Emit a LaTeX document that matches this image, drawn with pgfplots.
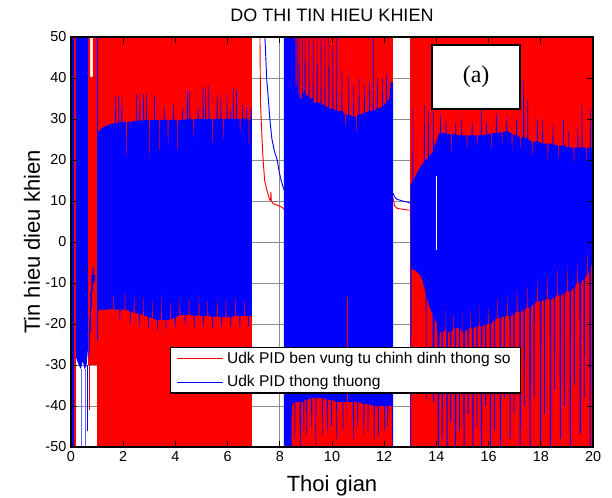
\documentclass[border=0pt]{standalone}
\usepackage{pgfplots}
\pgfplotsset{compat=1.18}
\usepgfplotslibrary{fillbetween}
\usepackage{fontspec}
\setmainfont{Liberation Sans}
\newfontfamily\serif{Liberation Serif}

\pgfplotsset{
  layers/matlab/.define layer set={
    axis background,axis grid,pre main,main,axis ticks,axis lines,axis tick labels,
    axis descriptions,axis foreground
  }{/pgfplots/layers/standard},
}

\begin{document}
\begin{tikzpicture}
\begin{axis}[
    set layers=matlab,
    fill between/on layer=main,
    scale only axis,
    width=391.5pt, height=307.5pt,
    xmin=0, xmax=20, ymin=-50, ymax=50,
    xtick={0,2,...,20}, ytick={-50,-40,...,50},
    grid=major,
    major grid style={black!45, line width=0.6pt},
    axis line style={black, line width=0.8pt},
    tick style={black, line width=0.6pt},
    tick align=inside,
    /pgf/number format/assume math mode=true,
    ticklabel style={font=\fontsize{10.8}{12}\selectfont},
    every axis title shift=0pt,
    title={DO THI TIN HIEU KHIEN},
    title style={at={(axis description cs:0.5,1.039)}, anchor=base, inner sep=0pt, font=\fontsize{13.5}{15}\selectfont},
    xlabel={Thoi gian},
    ylabel={Tin hieu dieu khien},
    xlabel style={at={(axis description cs:0.5,-0.109)}, anchor=base, inner sep=0pt, font=\fontsize{16.5}{18}\selectfont},
    ylabel style={at={(axis description cs:-0.0594,0.5)}, anchor=base, inner sep=0pt, font=\fontsize{16.5}{18}\selectfont},
    legend style={at={(0.1897,0.2439)}, anchor=north west, draw=black, line width=1pt,
        fill=white, font=\fontsize{11.7}{13}\selectfont, inner xsep=4.5pt, inner ysep=0.6pt,
        row sep=2.5pt, nodes={inner ysep=2.6pt, inner xsep=3pt}},
    legend cell align=left,
    legend image code/.code={\draw[#1, line width=0.6pt] (0cm,0cm) -- (1.2cm,0cm);},
]

% ---- red signal: dense oscillation blocks ----
\addplot[fill=red, draw=none, forget plot] coordinates {
 (0.66,-30) (0.66,50) (0.73,50) (0.73,40.3) (0.84,40.3) (0.84,50) (6.93,50) (6.93,-50) (1.00,-50) (1.00,-30)} -- cycle;
\addplot[fill=red, draw=none, forget plot] coordinates {
 (8.15,-50) (8.15,50) (12.34,50) (12.34,-50)} -- cycle;
\addplot[fill=red, draw=none, forget plot] coordinates {
 (13.00,-50) (13.00,50) (20.00,50) (20.00,-50)} -- cycle;
\addplot[red, line width=0.6pt, forget plot] coordinates {(0.70,-30) (0.70,-41)};

% ---- red signal in the gaps ----
\addplot[red, line width=0.7pt, forget plot] coordinates {
 (7.24,50) (7.26,34) (7.32,25) (7.36,20) (7.42,15) (7.50,12.7) (7.62,10.2) (7.65,10.4)
 (7.66,12.2) (7.67,10.6) (7.68,10.0) (7.75,9.3) (7.90,9.0) (8.05,8.6) (8.12,8.3) (8.15,8.0)};
\addplot[red, line width=0.7pt, forget plot] coordinates {
 (12.34,10.7) (12.40,8.8) (12.50,8.2) (12.70,8.0) (12.90,7.8) (13.00,7.8) (13.00,6.0)};

% ---- blue signal: early transient ----
\addplot[fill=blue, draw=none, forget plot] coordinates {
 (0.04,-50) (0.04,50) (0.12,50) (0.12,-50)} -- cycle;
\addplot[fill=blue, draw=none, forget plot] coordinates {
 (0.18,50) (0.65,50) (0.65,-26) (0.60,-30) (0.52,-31) (0.45,-29) (0.38,-31) (0.30,-30) (0.24,-29) (0.18,-28)} -- cycle;
\addplot[red, line width=0.9pt, forget plot] coordinates {(0.15,-50) (0.15,50)};
\addplot[blue!60, line width=0.6pt, forget plot] coordinates {(0.38,-31) (0.38,-50)};
\addplot[blue!60, line width=0.6pt, forget plot] coordinates {(0.56,-31) (0.56,-50)};
\addplot[blue, line width=0.6pt, forget plot] coordinates {(0.62,-30) (0.62,-46)};
\addplot[blue, line width=0.6pt, forget plot] coordinates {
 (0.70,-28) (0.72,-18) (0.74,-22) (0.76,-12) (0.78,-16) (0.80,-8) (0.82,-12) (0.85,-6) (0.88,-10) (0.92,-8)};
\addplot[blue, line width=0.7pt, forget plot] coordinates {(1.00,50) (1.00,-24)};

% ---- blue band 1 (1.0 - 6.93) ----
\addplot[name path=b1u, draw=none, forget plot] coordinates {
 (1.00,26.5) (1.10,27.3) (1.20,27.8) (1.30,28.2) (1.40,28.5) (1.50,28.7) (1.60,28.9) (1.69,29.0)
 (1.70,35.6) (1.72,35.6) (1.73,29.0) (1.81,29.1) (1.82,35.6) (1.84,35.6) (1.85,29.1) (1.93,29.2)
 (1.94,35.4) (1.96,35.4) (1.97,29.2) (2.10,29.3) (2.12,21.0) (2.14,21.0) (2.15,29.3) (2.28,29.4)
 (2.30,26.0) (2.31,29.4) (2.50,29.5) (2.51,36.3) (2.53,36.3) (2.54,29.6) (2.62,29.6) (2.63,35.8)
 (2.65,35.8) (2.66,29.6) (2.76,29.7) (2.77,36.0) (2.79,36.0) (2.80,29.7) (2.88,29.7) (2.89,36.2)
 (2.91,36.2) (2.92,29.7) (2.98,29.7) (2.99,20.5) (3.01,20.5) (3.02,29.7) (3.18,29.7) (3.19,35.5)
 (3.21,35.5) (3.22,29.7) (3.38,29.8) (3.39,22.5) (3.41,22.5) (3.42,29.8) (3.55,29.8) (3.56,33.0)
 (3.58,33.0) (3.59,29.8) (3.70,29.8) (3.71,23.5) (3.73,23.5) (3.74,29.8) (3.90,29.8) (3.91,33.5)
 (3.93,33.5) (3.94,29.8) (4.05,29.8) (4.06,22.5) (4.08,22.5) (4.09,29.8) (4.25,29.8) (4.26,32.5)
 (4.28,32.5) (4.29,29.8) (4.44,29.9) (4.45,36.8) (4.47,36.8) (4.48,29.9) (4.53,29.9) (4.54,36.8)
 (4.56,36.8) (4.57,29.9) (4.68,29.9) (4.69,25.5) (4.71,25.5) (4.72,29.9) (4.85,30.0) (4.86,33.0)
 (4.88,33.0) (4.89,30.0) (5.04,30.0) (5.05,38.0) (5.07,38.0) (5.08,30.0) (5.14,30.0) (5.15,37.5)
 (5.17,37.5) (5.18,30.0) (5.26,30.0) (5.27,38.2) (5.29,38.2) (5.30,30.0) (5.40,30.0) (5.41,24.0)
 (5.43,24.0) (5.44,30.0) (5.58,30.0) (5.59,36.0) (5.61,36.0) (5.62,30.0) (5.72,30.0) (5.73,35.5)
 (5.75,35.5) (5.76,30.0) (5.82,30.0) (5.83,25.0) (5.85,25.0) (5.86,30.0) (5.96,30.0) (5.97,36.0)
 (5.99,36.0) (6.00,30.0) (6.10,30.0) (6.11,32.0) (6.13,32.0) (6.14,30.0) (6.20,30.0) (6.21,37.5)
 (6.23,37.5) (6.24,30.0) (6.32,30.0) (6.33,37.0) (6.35,37.0) (6.36,30.0) (6.46,30.0) (6.47,27.0)
 (6.49,27.0) (6.50,30.0) (6.56,30.0) (6.57,33.5) (6.59,33.5) (6.60,30.0) (6.70,30.0) (6.71,33.0)
 (6.73,33.0) (6.74,30.0) (6.80,30.0) (6.81,24.0) (6.83,24.0) (6.84,30.0) (6.88,30.0) (6.89,33.0)
 (6.91,33.0) (6.93,30.0)};
\addplot[name path=b1l, draw=none, forget plot] coordinates {
 (1.00,-24.0) (1.02,-17.0) (1.10,-16.5) (1.30,-16.5) (1.50,-16.4) (1.62,-16.4) (1.63,-13.0) (1.65,-13.0)
 (1.66,-16.5) (1.85,-16.5) (1.86,-19.0) (1.88,-19.0) (1.89,-16.5) (2.05,-16.5) (2.06,-12.5) (2.08,-12.5)
 (2.09,-16.6) (2.25,-16.8) (2.26,-20.0) (2.28,-20.0) (2.29,-17.0) (2.40,-17.2) (2.41,-13.0) (2.43,-13.0)
 (2.44,-17.3) (2.60,-17.5) (2.61,-20.5) (2.63,-20.5) (2.64,-17.6) (2.75,-17.8) (2.76,-13.5) (2.78,-13.5)
 (2.79,-18.0) (2.95,-18.2) (2.96,-21.0) (2.98,-21.0) (2.99,-18.3) (3.10,-18.5) (3.11,-14.0) (3.13,-14.0)
 (3.14,-18.7) (3.30,-19.0) (3.31,-21.5) (3.33,-21.5) (3.34,-19.0) (3.45,-19.0) (3.46,-12.8) (3.48,-12.8)
 (3.49,-19.0) (3.62,-19.0) (3.63,-21.3) (3.65,-21.3) (3.66,-19.0) (3.80,-19.0) (3.81,-14.5) (3.83,-14.5)
 (3.84,-18.8) (3.98,-18.5) (3.99,-20.8) (4.01,-20.8) (4.02,-18.3) (4.15,-18.0) (4.16,-13.5) (4.18,-13.5)
 (4.19,-17.8) (4.35,-17.8) (4.36,-20.5) (4.38,-20.5) (4.39,-17.8) (4.50,-17.8) (4.51,-14.0) (4.53,-14.0)
 (4.54,-17.8) (4.70,-17.9) (4.71,-20.8) (4.73,-20.8) (4.74,-17.9) (4.88,-18.0) (4.89,-13.0) (4.91,-13.0)
 (4.92,-18.0) (5.05,-18.0) (5.06,-20.5) (5.08,-20.5) (5.09,-18.0) (5.22,-18.0) (5.23,-14.5) (5.25,-14.5)
 (5.26,-18.0) (5.40,-18.2) (5.41,-21.0) (5.43,-21.0) (5.44,-18.2) (5.58,-18.2) (5.59,-13.5) (5.61,-13.5)
 (5.62,-18.2) (5.75,-18.3) (5.76,-20.8) (5.78,-20.8) (5.79,-18.3) (5.92,-18.3) (5.93,-14.0) (5.95,-14.0)
 (5.96,-18.3) (6.10,-18.3) (6.11,-20.5) (6.13,-20.5) (6.14,-18.3) (6.28,-18.0) (6.29,-13.5) (6.31,-13.5)
 (6.32,-18.0) (6.45,-18.0) (6.46,-20.8) (6.48,-20.8) (6.49,-18.0) (6.62,-18.0) (6.63,-14.0) (6.65,-14.0)
 (6.66,-18.0) (6.78,-18.0) (6.79,-20.5) (6.81,-20.5) (6.82,-18.0) (6.93,-18.0)};
\addplot[blue, forget plot] fill between[of=b1u and b1l];

% ---- blue band 2 (8.16 - 12.34) ----
\addplot[name path=b2u, draw=none, forget plot] coordinates {
 (8.16,50) (8.60,50) (8.61,38) (8.64,38) (8.65,50) (8.68,50) (8.69,36) (8.72,36) (8.73,50) (8.75,50)
 (8.76,35) (8.84,35) (8.85,50) (8.87,50) (8.88,36) (8.95,37) (8.96,50) (8.98,50) (8.99,36) (9.10,35.5)
 (9.11,50) (9.13,50) (9.14,35) (9.26,35) (9.27,50) (9.29,50) (9.30,34) (9.41,34) (9.42,50) (9.44,50)
 (9.45,34) (9.56,34) (9.57,50) (9.59,50) (9.60,33.5) (9.71,33.5) (9.72,50) (9.74,50) (9.75,33)
 (9.86,33) (9.87,50) (9.89,50) (9.90,32.5) (10.01,32.5) (10.02,48) (10.04,48) (10.05,32.5) (10.16,32)
 (10.17,50) (10.19,50) (10.20,32) (10.36,32) (10.37,42) (10.39,42) (10.40,32) (10.50,31) (10.51,28)
 (10.53,28) (10.54,31) (10.62,31) (10.63,40) (10.65,40) (10.66,31) (10.81,30.5) (10.82,38) (10.84,38)
 (10.85,30.5) (10.92,30.5) (10.93,27) (10.95,27) (10.96,31) (11.02,31) (11.03,40) (11.05,40) (11.06,31)
 (11.22,31.5) (11.23,38) (11.25,38) (11.26,31.5) (11.42,32) (11.43,39) (11.45,39) (11.46,32) (11.56,32)
 (11.57,50) (11.59,50) (11.60,32) (11.72,32.5) (11.73,40) (11.75,40) (11.76,32.5) (11.92,33) (11.93,40)
 (11.95,40) (11.96,33) (12.07,34) (12.08,41) (12.10,41) (12.11,34) (12.20,35) (12.25,39) (12.34,39)};
\addplot[name path=b2l, draw=none, forget plot] coordinates {
 (8.16,-50) (8.45,-50) (8.46,-40) (8.56,-39) (8.57,-48) (8.59,-48) (8.60,-39) (8.76,-39) (8.77,-50)
 (8.80,-50) (8.81,-39) (8.90,-39) (8.91,-46) (8.93,-46) (8.94,-38.5) (9.01,-38.5) (9.02,-47) (9.04,-47)
 (9.05,-38.5) (9.20,-38) (9.21,-45) (9.23,-45) (9.24,-38) (9.36,-38) (9.37,-50) (9.39,-50) (9.40,-38)
 (9.61,-38) (9.62,-47) (9.64,-47) (9.65,-38) (9.80,-38.5) (9.81,-46) (9.83,-46) (9.84,-38.5) (9.96,-38.5)
 (9.97,-45) (9.99,-45) (10.00,-38.5) (10.16,-39) (10.17,-48) (10.19,-48) (10.20,-39) (10.40,-39)
 (10.41,-46) (10.43,-46) (10.44,-39) (10.56,-39) (10.57,-47) (10.59,-47) (10.60,-39) (10.80,-39)
 (10.81,-48) (10.83,-48) (10.84,-39) (10.96,-39) (10.97,-45) (10.99,-45) (11.00,-39) (11.20,-39.5)
 (11.21,-47) (11.23,-47) (11.24,-39.5) (11.36,-39.5) (11.37,-46) (11.39,-46) (11.40,-39.5) (11.60,-40)
 (11.61,-48) (11.63,-48) (11.64,-40) (11.76,-40) (11.77,-47) (11.79,-47) (11.80,-40) (12.00,-40)
 (12.01,-46) (12.03,-46) (12.04,-40) (12.11,-40) (12.12,-45) (12.14,-45) (12.15,-40) (12.30,-40)
 (12.31,-50) (12.34,-50)};
\addplot[blue, forget plot] fill between[of=b2u and b2l];
\addplot[red, line width=0.6pt, forget plot] coordinates {(10.60,-50) (10.60,-13.4)};

% ---- blue signal in the gaps ----
\addplot[blue, line width=0.7pt, forget plot] coordinates {
 (7.43,50) (7.50,39.5) (7.56,35) (7.62,29.8) (7.70,25) (7.80,22) (7.90,20) (7.98,17) (8.05,15.1)
 (8.12,13.5) (8.16,12.7)};
\addplot[blue, line width=0.7pt, forget plot] coordinates {
 (12.34,11.9) (12.40,11.0) (12.50,10.4) (12.70,10.0) (12.90,9.7) (13.00,9.5)};

% ---- blue band 3 (13.0 - 20.0) ----
\addplot[name path=b3u, draw=none, forget plot] coordinates {
 (13.00,14) (13.05,14.4) (13.08,14.6) (13.09,32.7) (13.11,32.7) (13.12,15) (13.25,16.8) (13.40,18.5)
 (13.52,19.5) (13.53,33.4) (13.55,33.4) (13.56,19.7) (13.68,20.5) (13.69,32) (13.71,32) (13.72,20.8)
 (13.86,22) (13.87,32) (13.89,32) (13.90,23) (14.00,24.5) (14.10,26.5) (14.14,26.6) (14.15,31)
 (14.17,31) (14.18,26.6) (14.35,26.5) (14.36,29.5) (14.38,29.5) (14.39,26.4) (14.55,26.3) (14.56,22)
 (14.58,22) (14.59,26.3) (14.72,26.2) (14.73,29) (14.75,29) (14.76,26.1) (14.95,26.0) (14.96,30)
 (14.98,30) (14.99,26.0) (15.15,26.0) (15.16,23) (15.18,23) (15.19,26.0) (15.35,26.0) (15.36,29.5)
 (15.38,29.5) (15.39,26.0) (15.55,26.0) (15.56,23.5) (15.58,23.5) (15.59,26.0) (15.70,26.0) (15.71,32.3)
 (15.73,32.3) (15.74,26.0) (15.90,26.2) (15.91,29) (15.93,29) (15.94,26.2) (16.10,26.4) (16.11,23)
 (16.13,23) (16.14,26.5) (16.28,26.6) (16.29,31.5) (16.31,31.5) (16.32,26.6) (16.50,26.8) (16.51,24)
 (16.53,24) (16.54,26.8) (16.68,27.0) (16.69,30.5) (16.71,30.5) (16.72,27.0) (16.88,26.5) (16.89,22.5)
 (16.91,22.5) (16.92,26.3) (17.05,26.0) (17.06,30) (17.08,30) (17.09,26.0) (17.20,25.5) (17.21,23)
 (17.23,23) (17.24,25.5) (17.32,25.5) (17.33,39.6) (17.35,39.6) (17.36,25.5) (17.48,25.2) (17.49,34.6)
 (17.51,34.6) (17.52,25.0) (17.65,24.5) (17.66,21) (17.68,21) (17.69,24.5) (17.85,24.5) (17.86,30)
 (17.88,30) (17.89,24.5) (18.05,24.0) (18.06,29.8) (18.08,29.8) (18.09,24.0) (18.25,24.0) (18.26,20)
 (18.28,20) (18.29,24.0) (18.45,24.0) (18.46,28.5) (18.48,28.5) (18.49,23.8) (18.65,23.5) (18.66,20.5)
 (18.68,20.5) (18.69,23.5) (18.85,23.5) (18.86,29.8) (18.88,29.8) (18.89,23.5) (19.05,23.0) (19.06,27)
 (19.08,27) (19.09,23.0) (19.25,23.0) (19.26,19.5) (19.28,19.5) (19.29,23.0) (19.40,23.0) (19.41,28)
 (19.43,28) (19.44,23.0) (19.56,23.0) (19.57,33.4) (19.59,33.4) (19.60,23.0) (19.72,23.0) (19.73,20)
 (19.75,20) (19.76,23.0) (19.88,23.0) (19.89,32.3) (19.91,32.3) (19.92,23.0) (20.00,23.0)};
\addplot[name path=b3l, draw=none, forget plot] coordinates {
 (13.00,-50) (13.03,-50) (13.04,-6.5) (13.20,-7.0) (13.35,-7.8) (13.45,-9.0) (13.55,-11.5) (13.59,-12.5)
 (13.60,-39) (13.62,-39) (13.63,-13) (13.65,-14.0) (13.75,-16.0) (13.85,-17.5) (13.87,-39) (13.91,-39)
 (13.93,-18.5) (14.03,-20) (14.06,-50) (14.10,-50) (14.12,-22)
 (14.20,-22) (14.21,-48) (14.24,-48) (14.25,-22) (14.32,-21.5) (14.33,-16) (14.34,-16) (14.35,-21.5)
 (14.38,-21.5) (14.39,-50) (14.43,-50) (14.44,-22) (14.52,-22) (14.53,-44) (14.56,-44) (14.57,-22)
 (14.64,-21) (14.65,-15) (14.66,-15) (14.67,-21) (14.70,-21) (14.71,-50) (14.75,-50) (14.76,-21)
 (14.86,-21) (14.87,-46) (14.90,-46) (14.91,-21) (14.97,-22) (14.98,-17) (14.99,-17) (15.00,-22)
 (15.03,-22) (15.04,-50) (15.08,-50) (15.09,-22) (15.19,-21) (15.20,-42) (15.23,-42) (15.24,-21)
 (15.30,-21) (15.31,-14) (15.32,-14) (15.33,-21) (15.37,-21) (15.38,-50) (15.42,-50) (15.43,-21)
 (15.53,-20.5) (15.54,-45) (15.57,-45) (15.58,-20.5) (15.63,-20.5) (15.64,-15) (15.65,-15) (15.66,-20.5)
 (15.70,-20.5) (15.71,-50) (15.75,-50) (15.76,-20.5) (15.86,-20) (15.87,-40) (15.90,-40) (15.91,-20)
 (15.97,-20) (15.98,-14) (15.99,-14) (16.00,-20) (16.04,-20) (16.05,-50) (16.09,-50) (16.10,-20)
 (16.20,-19) (16.21,-46) (16.24,-46) (16.25,-19) (16.32,-18.5) (16.33,-14) (16.35,-14) (16.36,-18.5)
 (16.42,-18.5) (16.43,-50) (16.47,-50) (16.48,-18.5) (16.58,-18) (16.59,-38) (16.62,-38) (16.63,-18)
 (16.70,-18) (16.71,-13) (16.73,-13) (16.74,-18) (16.80,-18) (16.81,-48) (16.84,-48) (16.85,-18)
 (16.95,-17.5) (16.96,-42) (16.99,-42) (17.00,-17.5) (17.07,-17) (17.08,-12) (17.10,-12) (17.11,-17)
 (17.18,-17) (17.19,-50) (17.23,-50) (17.24,-17) (17.34,-16.5) (17.35,-40) (17.38,-40) (17.39,-16.5)
 (17.46,-16) (17.47,-11) (17.49,-11) (17.50,-16) (17.56,-16) (17.57,-50) (17.61,-50) (17.62,-16)
 (17.72,-15) (17.73,-38) (17.76,-38) (17.77,-15) (17.85,-14.5) (17.86,-9) (17.88,-9) (17.89,-14.5)
 (17.96,-14.5) (17.97,-50) (18.01,-50) (18.02,-14.5) (18.12,-14) (18.13,-42) (18.16,-42) (18.17,-14)
 (18.24,-14) (18.25,-8) (18.27,-8) (18.28,-14) (18.34,-14) (18.35,-50) (18.39,-50) (18.40,-14)
 (18.50,-13.5) (18.51,-36) (18.54,-36) (18.55,-13.5) (18.62,-13) (18.63,-7) (18.65,-7) (18.66,-13)
 (18.72,-13) (18.73,-48) (18.77,-48) (18.78,-13) (18.88,-12.5) (18.89,-40) (18.92,-40) (18.93,-12.5)
 (19.00,-12) (19.01,-6) (19.03,-6) (19.04,-12) (19.10,-12) (19.11,-50) (19.15,-50) (19.16,-12)
 (19.26,-11) (19.27,-35) (19.30,-35) (19.31,-11) (19.38,-10) (19.39,-5) (19.41,-5) (19.42,-10)
 (19.48,-10) (19.49,-47) (19.53,-47) (19.54,-10) (19.64,-9) (19.65,-38) (19.68,-38) (19.69,-9)
 (19.76,-8) (19.77,-3) (19.79,-3) (19.80,-8) (19.86,-7) (19.87,-50) (19.91,-50) (19.92,-6) (20.00,-5)};
\addplot[blue, forget plot] fill between[of=b3u and b3l];
\addplot[white, line width=0.8pt, forget plot] coordinates {(14.02,16) (14.02,-2)};

% ---- legend ----
\addlegendimage{red}
\addlegendentry{Udk PID ben vung tu chinh dinh thong so}
\addlegendimage{blue}
\addlegendentry{Udk PID thong thuong}

\node[draw=black, line width=1.5pt, fill=white, minimum width=66pt, minimum height=48pt,
      inner sep=0pt, font=\serif\fontsize{18}{20}\selectfont] at (axis cs:15.52,40.2) {(a)};
\end{axis}
\path (current axis.south west) +(-53.25pt,-38.25pt) (current axis.north east) +(14.25pt,27.75pt);
\end{tikzpicture}
\end{document}
